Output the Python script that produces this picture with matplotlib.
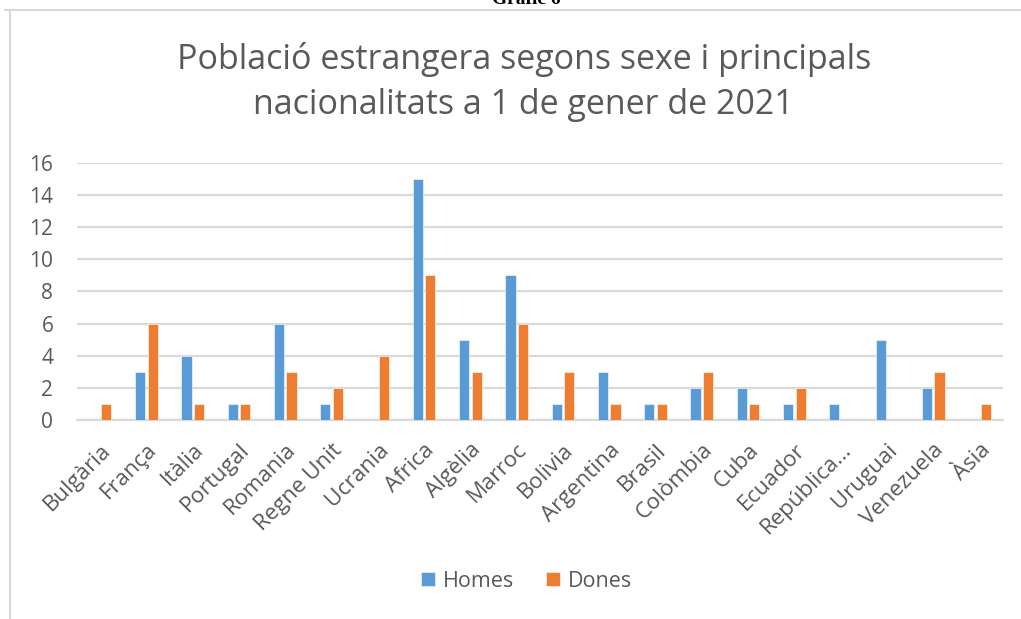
import numpy as np
import matplotlib
matplotlib.use('Agg')
from matplotlib import pyplot as plt
from matplotlib.lines import Line2D

# data
paisos = ['Bulgària', 'França', 'Itàlia', 'Portugal', 'Romania', 'Regne Unit',
          'Ucrania', 'Africa', 'Algèlia', 'Marroc', 'Bolivia', 'Argentina',
          'Brasil', 'Colòmbia', 'Cuba', 'Ecuador', 'República…', 'Uruguai',
          'Venezuela', 'Àsia']
homes = [0, 3, 4, 1, 6, 1, 0, 15, 5, 9, 1, 3, 1, 2, 2, 1, 1, 5, 2, 0]
dones = [1, 6, 1, 1, 3, 2, 4, 9, 3, 6, 3, 1, 1, 3, 1, 2, 0, 0, 3, 1]
yticks = [0, 2, 4, 6, 8, 10, 12, 14, 16]

plt.rcParams['font.family'] = ['Open Sans', 'DejaVu Sans']
grey = '#595959'
blue = '#5B9BD5'
orange = '#ED7D31'

fig = plt.figure(figsize=(10.21, 6.19), dpi=100)
ax = fig.add_axes([0.0754, 0.3215, 0.9066, 0.4152])

x = np.arange(len(paisos))
w = 0.22
ax.bar(x - 0.135, homes, w, color=blue, edgecolor='white', linewidth=0.4, label='Homes', zorder=3)
ax.bar(x + 0.135, dones, w, color=orange, edgecolor='white', linewidth=0.4, label='Dones', zorder=3)

ax.set_xlim(-0.5, len(paisos) - 0.5)
ax.set_ylim(0, 16)
ax.set_yticks(yticks)
ax.set_xticks(x)
ax.set_xticklabels(paisos, rotation=45, ha='right', rotation_mode='anchor')
ax.tick_params(axis='x', length=0, pad=14, labelsize=16, labelcolor=grey)
ax.tick_params(axis='y', length=0, pad=17, labelsize=15, labelcolor=grey)

ax.grid(axis='y', color='#d9d9d9', linewidth=1.6, zorder=0)
for s in ['top', 'right', 'left']:
    ax.spines[s].set_visible(False)
ax.spines['bottom'].set_color('#d9d9d9')
ax.spines['bottom'].set_linewidth(1.6)

fig.text(0.513, 0.868, 'Població estrangera segons sexe i principals\nnacionalitats a 1 de gener de 2021',
         ha='center', va='center', fontsize=24.5, color=grey, linespacing=1.42)

fig.legend(loc='center', bbox_to_anchor=(0.516, 0.061), ncol=2, frameon=False,
           fontsize=15.5, labelcolor=grey, handlelength=0.65, handleheight=0.65,
           handletextpad=0.35, columnspacing=1.5)

# chart border and cut caption above
fig.add_artist(Line2D([10 / 1021, 10 / 1021], [0, 1 - 10 / 619], color='#d9d9d9', linewidth=1.5))
fig.add_artist(Line2D([5 / 1021, 1], [1 - 10 / 619, 1 - 10 / 619], color='#d9d9d9', linewidth=1.5))
fig.text(0.515, 1 - 4 / 619, 'Gràfic 6', ha='center', va='baseline', fontsize=14,
         fontweight='bold', family='Liberation Serif', color='black')

fig.savefig('out.png', dpi=100)
